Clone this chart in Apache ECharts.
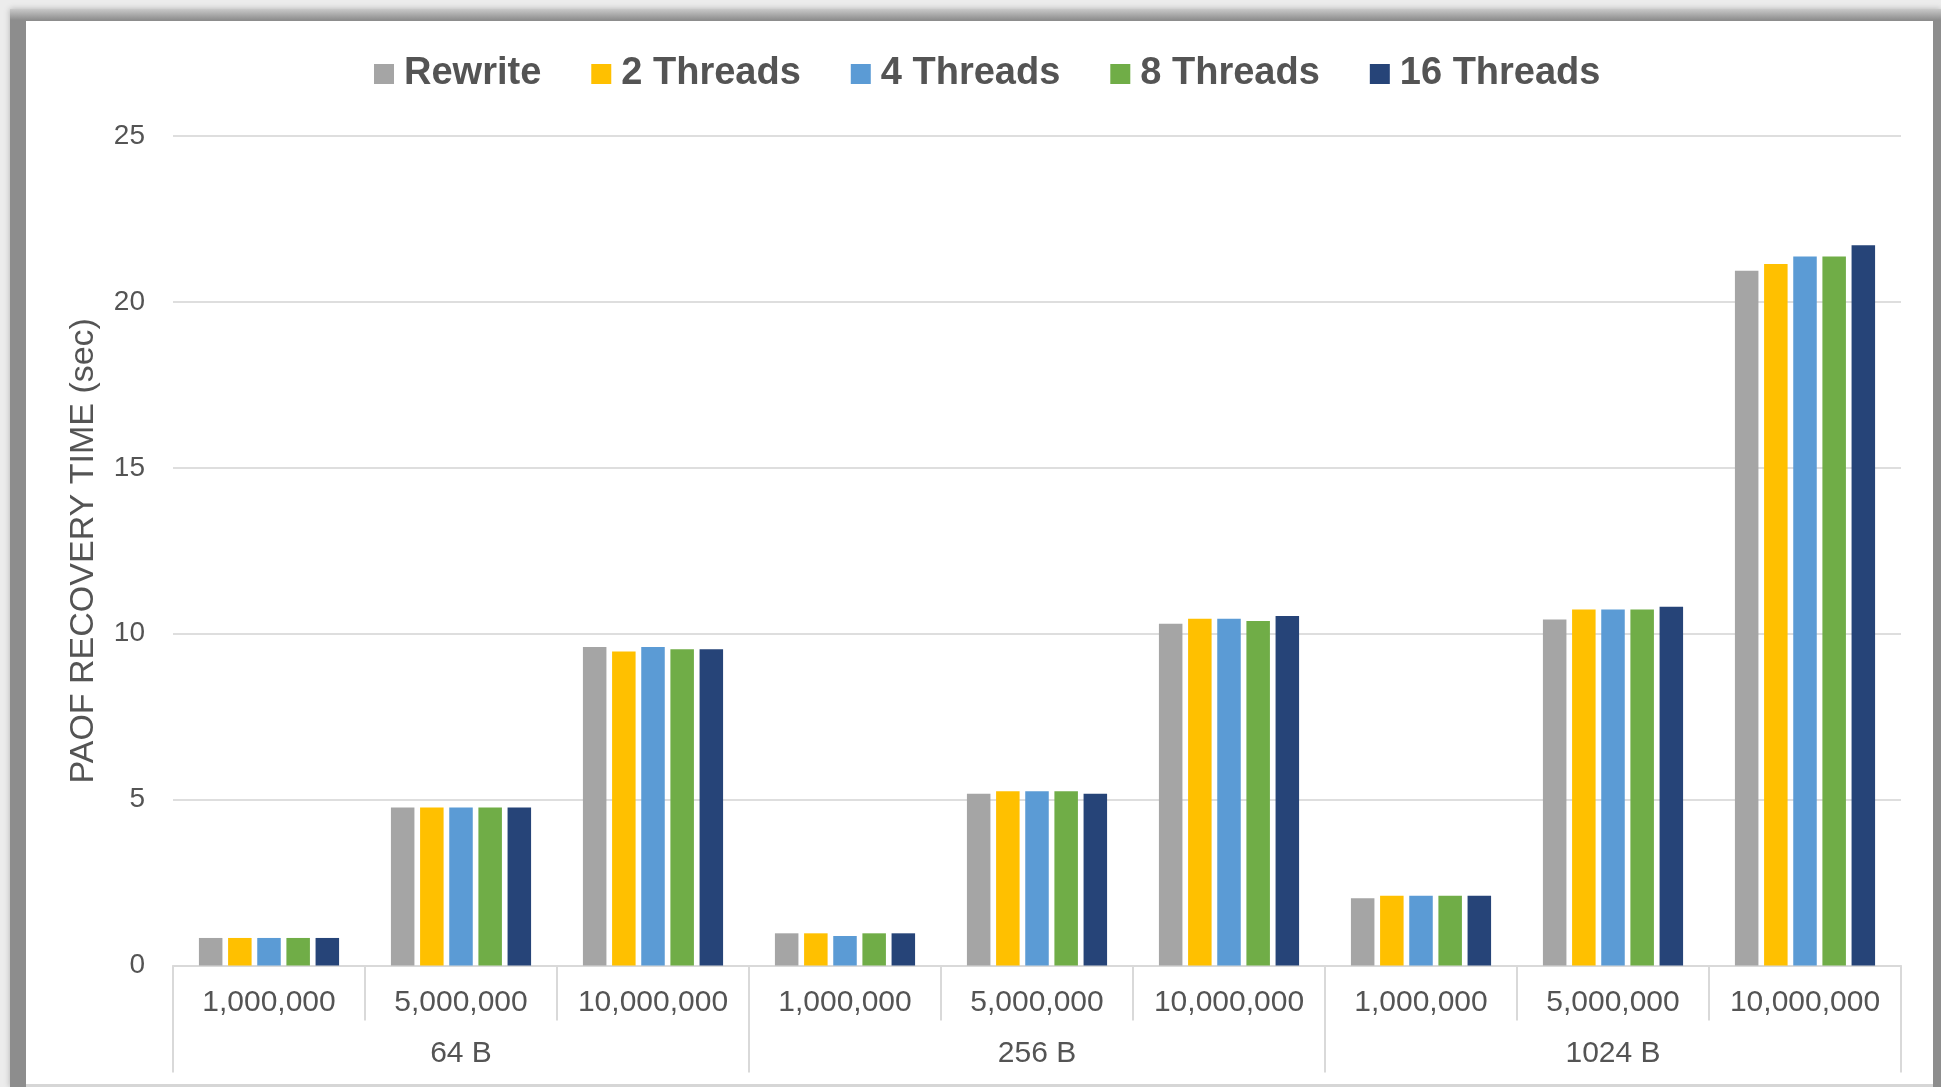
<!DOCTYPE html>
<html>
<head>
<meta charset="utf-8">
<script src="https://cdn.jsdelivr.net/npm/echarts@6/dist/echarts.min.js"></script>
<style>
  html, body { margin: 0; padding: 0; width: 1941px; height: 1087px; overflow: hidden; background: #ececec; }
  #frame { position: absolute; left: 10px; top: 9px; width: 1931px; height: 1078px;
           background: linear-gradient(to bottom, #c9c9c9 0px, #8d8d8d 11px, #8d8d8d 100%);
           box-shadow: 0 0 6px rgba(0,0,0,0.25); }
  #paper { position: absolute; left: 26px; top: 21px; width: 1907px; height: 1063px;
           background: #ffffff; border-bottom: 3px solid #d6d6d6; }
  #chart { position: absolute; left: 0; top: 0; width: 1941px; height: 1087px; }
</style>
</head>
<body>
<div id="frame"></div>
<div id="paper"></div>
<div id="chart"></div>
<script>
const categories = ['1,000,000', '5,000,000', '10,000,000',
                    '1,000,000', '5,000,000', '10,000,000',
                    '1,000,000', '5,000,000', '10,000,000'];
const groups = ['64 B', '256 B', '1024 B'];
const seriesNames = ['Rewrite', '2 Threads', '4 Threads', '8 Threads', '16 Threads'];
const rewrite   = [0.83, 4.76, 9.60, 0.97, 5.18, 10.30, 2.03, 10.43, 20.94];
const threads2  = [0.83, 4.76, 9.46, 0.97, 5.25, 10.45, 2.10, 10.73, 21.14];
const threads4  = [0.83, 4.76, 9.60, 0.89, 5.25, 10.45, 2.10, 10.73, 21.37];
const threads8  = [0.83, 4.76, 9.53, 0.97, 5.25, 10.38, 2.10, 10.73, 21.37];
const threads16 = [0.83, 4.76, 9.53, 0.97, 5.18, 10.53, 2.10, 10.81, 21.71];
const yTicks = { min: 0, max: 25, interval: 5 };
const colors = ['#A5A5A5', '#FFC000', '#5B9BD5', '#70AD47', '#264478'];
const seriesData = [rewrite, threads2, threads4, threads8, threads16];

const FONT = "'Liberation Sans', Arial, sans-serif";
const TXT = '#545454';

const chart = echarts.init(document.getElementById('chart'), null, { renderer: 'canvas' });
chart.setOption({
  animation: false,
  color: colors,
  textStyle: { fontFamily: FONT, color: TXT },
  legend: {
    left: 374, top: 51, padding: 0,
    itemWidth: 20, itemHeight: 20, itemGap: 50,
    icon: 'rect',
    textStyle: { fontFamily: FONT, fontSize: 38, fontWeight: 'bold', color: TXT, lineHeight: 46, padding: [0, 0, 0, 5] },
    data: seriesNames
  },
  grid: { left: 173, right: 40, top: 136, bottom: 121.5, containLabel: false },
  xAxis: [
    {
      type: 'category', data: categories, position: 'bottom',
      axisLine: { show: true, lineStyle: { color: '#d9d9d9', width: 2 } },
      axisTick: { show: true, interval: 0, length: 55, lineStyle: { color: '#d9d9d9', width: 2 } },
      axisLabel: { interval: 0, margin: 22, fontSize: 30, color: TXT, fontFamily: FONT }
    },
    {
      type: 'category', data: groups, position: 'bottom',
      axisLine: { show: false },
      axisTick: { show: true, interval: 0, length: 107, lineStyle: { color: '#d9d9d9', width: 2 } },
      axisLabel: { interval: 0, margin: 73, fontSize: 30, color: TXT, fontFamily: FONT }
    }
  ],
  yAxis: {
    type: 'value', min: yTicks.min, max: yTicks.max, interval: yTicks.interval,
    name: 'PAOF RECOVERY TIME (sec)', nameLocation: 'middle', nameGap: 72,
    nameTextStyle: { fontSize: 34, color: TXT, fontFamily: FONT },
    axisLine: { show: false }, axisTick: { show: false },
    axisLabel: { fontSize: 28, margin: 28, color: TXT, fontFamily: FONT },
    splitLine: { lineStyle: { color: '#dedede', width: 2 } }
  },
  series: seriesNames.map((n, i) => ({
    name: n, type: 'bar', xAxisIndex: 0, data: seriesData[i],
    barCategoryGap: '27%', barGap: '24%',
    itemStyle: { color: colors[i] }
  }))
});
</script>
</body>
</html>
